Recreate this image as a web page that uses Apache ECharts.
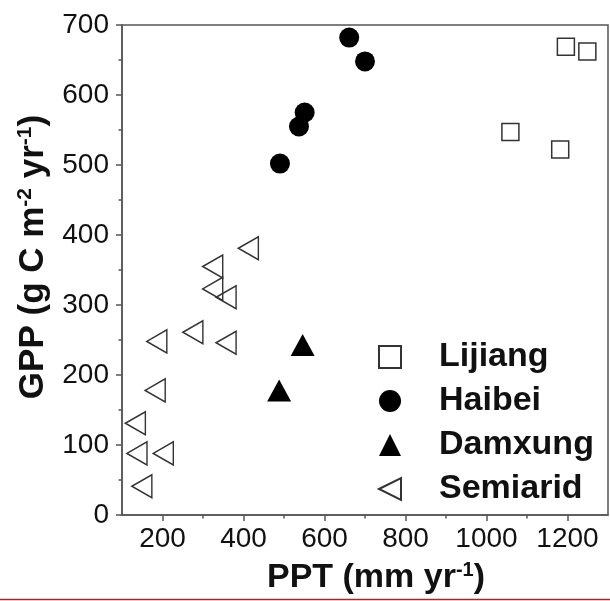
<!DOCTYPE html>
<html>
<head>
<meta charset="utf-8">
<script src="https://cdn.jsdelivr.net/npm/echarts@6/dist/echarts.min.js"></script>
<style>html,body{margin:0;padding:0;background:#fff;}#c{width:610px;height:601px;}</style>
</head>
<body>
<div id="c"></div>
<script>
// ---- data ----
var lijiangPPT = [1196, 1249, 1059, 1182];
var lijiangGPP = [669, 662, 547, 522];
var haibeiPPT = [661, 700, 551, 537, 490];
var haibeiGPP = [682, 648, 575, 555, 502];
var damxungPPT = [488, 546];
var damxungGPP = [178, 243];
var semiaridPPT = [186, 275, 357, 182, 133, 137, 202, 149, 324, 412, 324, 357];
var semiaridGPP = [248, 261, 246, 178, 131, 88, 88, 41, 355, 381, 323, 311];
var xMajorTicks = [200, 400, 600, 800, 1000, 1200];
var xMinorTicks = [300, 500, 700, 900, 1100];
var seriesNames = ['Lijiang', 'Haibei', 'Damxung', 'Semiarid'];

function pairs(xs, ys) { return xs.map(function (x, i) { return [x, ys[i]]; }); }

var FONT = '"Liberation Sans", Arial, sans-serif';
var AXIS = '#555';
var plain = function (v) { return String(v); };
var chart = echarts.init(document.getElementById('c'), null, { renderer: 'canvas' });
var option = {
  animation: false,
  backgroundColor: '#fff',
  grid: { left: 122, top: 25, right: 2, bottom: 86, show: true, borderColor: AXIS, borderWidth: 1.5, backgroundColor: 'transparent' },
  xAxis: [{
    type: 'value', min: 100, max: 1300, interval: 100, position: 'bottom',
    splitLine: { show: false },
    axisLine: { show: true, onZero: false, lineStyle: { color: AXIS, width: 1.5 } },
    axisTick: { show: true, inside: false, length: 6, customValues: xMajorTicks, lineStyle: { color: AXIS, width: 1.5 } },
    axisLabel: { customValues: xMajorTicks, formatter: plain, margin: 10, fontSize: 28, color: '#111', fontFamily: FONT },
    name: '{a|PPT (mm yr}{s|-1}{a|)}', nameLocation: 'middle', nameGap: 45,
    nameTextStyle: { fontFamily: FONT, padding: [0, 0, 0, 22], rich: {
      a: { fontSize: 34, fontWeight: 'bold', color: '#111', fontFamily: FONT, lineHeight: 36 },
      s: { fontSize: 20, fontWeight: 'bold', color: '#111', fontFamily: FONT, verticalAlign: 'top', lineHeight: 20 }
    } }
  }, {
    type: 'value', min: 100, max: 1300, interval: 100, position: 'bottom', gridIndex: 0,
    splitLine: { show: false },
    axisLine: { show: false, onZero: false },
    axisTick: { show: true, inside: false, length: 3.5, customValues: xMinorTicks, lineStyle: { color: AXIS, width: 1.5 } },
    axisLabel: { show: false }
  }],
  yAxis: {
    type: 'value', min: 0, max: 700, interval: 100,
    splitLine: { show: false },
    axisLine: { show: true, onZero: false, lineStyle: { color: AXIS, width: 1.5 } },
    axisTick: { show: true, inside: false, length: 6, lineStyle: { color: AXIS, width: 1.5 } },
    minorTick: { show: true, splitNumber: 2, length: 3.5, lineStyle: { color: AXIS, width: 1.5 } },
    axisLabel: { formatter: plain, margin: 13, fontSize: 28, color: '#111', fontFamily: FONT },
    name: '{a|GPP (g C m}{s|-2}{a| yr}{s|-1}{a|)}', nameLocation: 'middle', nameGap: 70,
    nameTextStyle: { fontFamily: FONT, padding: [0, 0, 0, 26], rich: {
      a: { fontSize: 35, fontWeight: 'bold', color: '#111', fontFamily: FONT, lineHeight: 37 },
      s: { fontSize: 21, fontWeight: 'bold', color: '#111', fontFamily: FONT, verticalAlign: 'top', lineHeight: 21 }
    } }
  },
  legend: {
    orient: 'vertical', left: 373, top: 335, itemGap: 10,
    itemWidth: 22, itemHeight: 22,
    data: [
      { name: seriesNames[0] },
      { name: seriesNames[1] },
      { name: seriesNames[2] },
      { name: seriesNames[3], icon: 'path://M0,5L10,0L10,10Z' }
    ],
    textStyle: { fontSize: 34, lineHeight: 34, fontWeight: 'bold', color: '#111', fontFamily: FONT, padding: [0, 0, 0, 33] }
  },
  series: [{
    name: seriesNames[0], type: 'scatter', data: pairs(lijiangPPT, lijiangGPP),
    symbol: 'rect', symbolSize: 17,
    itemStyle: { color: '#fff', borderColor: '#333', borderWidth: 1.5, opacity: 1 }
  }, {
    name: seriesNames[1], type: 'scatter', data: pairs(haibeiPPT, haibeiGPP),
    symbol: 'circle', symbolSize: 20,
    itemStyle: { color: '#000', opacity: 1 }
  }, {
    name: seriesNames[2], type: 'scatter', data: pairs(damxungPPT, damxungGPP),
    symbol: 'triangle', symbolSize: [24, 22],
    itemStyle: { color: '#000', opacity: 1 }
  }, {
    name: seriesNames[3], type: 'scatter', data: pairs(semiaridPPT, semiaridGPP),
    symbol: 'triangle', symbolSize: [23, 20], symbolRotate: 90,
    itemStyle: { color: 'rgba(255,255,255,0)', borderColor: '#333', borderWidth: 1.5, opacity: 1 }
  }],
  graphic: [{
    type: 'line', silent: true, z: 100,
    shape: { x1: 0, y1: 599.5, x2: 610, y2: 599.5 },
    style: { stroke: '#ff0000', lineWidth: 1.5 }
  }]
};
chart.setOption(option);
</script>
</body>
</html>
